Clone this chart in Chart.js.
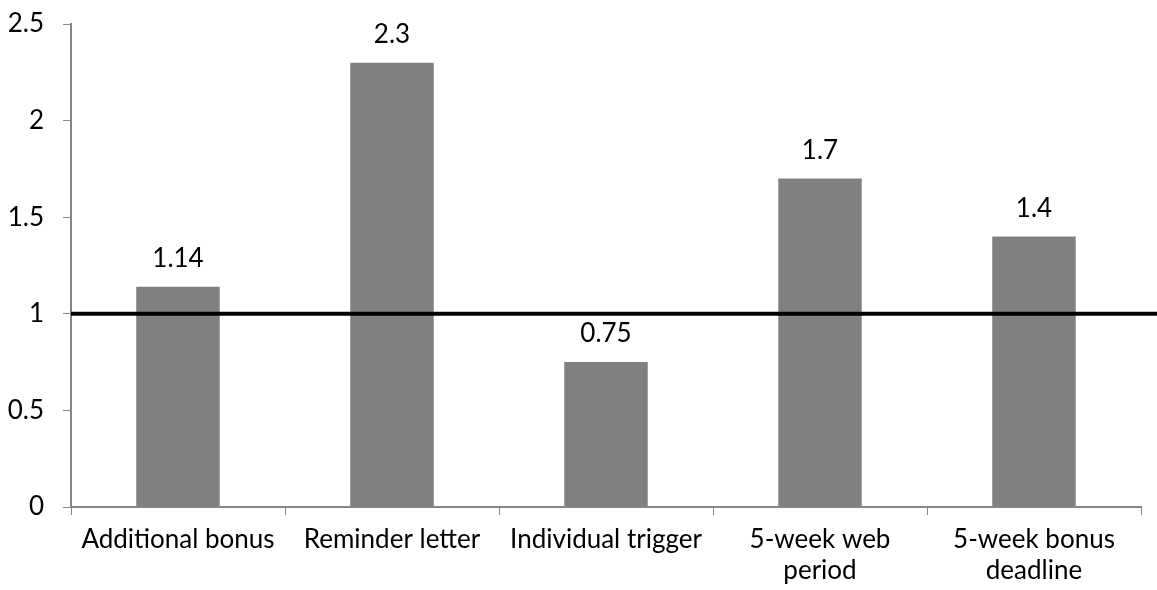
<!DOCTYPE html>
<html>
<head>
<meta charset="utf-8">
<script src="https://cdn.jsdelivr.net/npm/chart.js@4"></script>
<style>
  html, body { margin: 0; padding: 0; background: #fff; }
  #wrap { width: 1157px; height: 590px; }
</style>
</head>
<body>
<div id="wrap"><canvas id="chart"></canvas></div>
<script>
const categories = [
  'Additional bonus',
  'Reminder letter',
  'Individual trigger',
  ['5-week web', 'period'],
  ['5-week bonus', 'deadline']
];
const values = [1.14, 2.3, 0.75, 1.7, 1.4];
const valueLabels = ['1.14', '2.3', '0.75', '1.7', '1.4'];
const yTicks = [0, 0.5, 1, 1.5, 2, 2.5];
const referenceValue = 1;

const FONT = "Lato, 'Open Sans', sans-serif";
const FONT_SIZE = 26;
const axisColor = '#868686';

// etiquetas de valor encima de cada barra
const valueLabelPlugin = {
  id: 'valueLabels',
  afterDatasetsDraw: ( chart ) => {
    const ctx = chart.ctx;
    const meta = chart.getDatasetMeta(0);
    ctx.save();
    ctx.font = FONT_SIZE + 'px ' + FONT;
    ctx.fillStyle = '#000';
    ctx.textAlign = 'center';
    ctx.textBaseline = 'alphabetic';
    meta.data.forEach(( bar, i ) => {
      ctx.fillText( valueLabels[i], bar.x, bar.y - 20 );
    });
    ctx.restore();
  }
};

// linea de referencia en y = 1, llega hasta el borde derecho
const referenceLinePlugin = {
  id: 'referenceLine',
  afterDatasetsDraw: ( chart ) => {
    const ctx = chart.ctx;
    const y = chart.scales.y.getPixelForValue( referenceValue );
    ctx.save();
    ctx.strokeStyle = '#000';
    ctx.lineWidth = 4;
    ctx.beginPath();
    ctx.moveTo( chart.chartArea.left, y );
    ctx.lineTo( chart.width, y );
    ctx.stroke();
    ctx.restore();
  }
};

new Chart( document.getElementById('chart'), {
  type: 'bar',
  data: {
    labels: categories,
    datasets: [{
      data: values,
      backgroundColor: '#808080',
      borderWidth: 0,
      categoryPercentage: 1,
      barPercentage: 0.39
    }]
  },
  options: {
    responsive: true,
    maintainAspectRatio: false,
    animation: false,
    layout: { padding: { top: 24, right: 16, left: 0, bottom: 0 } },
    plugins: {
      legend: { display: false },
      tooltip: { enabled: false }
    },
    scales: {
      x: {
        grid: {
          display: true,
          drawOnChartArea: false,
          drawTicks: true,
          tickLength: 8,
          color: axisColor,
          offset: true
        },
        border: { display: true, color: axisColor, width: 2 },
        ticks: {
          color: '#000',
          font: { family: FONT, size: FONT_SIZE, lineHeight: 1.2 },
          maxRotation: 0,
          autoSkip: false,
          padding: 9
        },
        afterFit: ( scale ) => {
          scale.height = 83;
          scale.paddingLeft = 0;
          scale.paddingRight = 0;
        }
      },
      y: {
        min: 0,
        max: 2.5,
        afterBuildTicks: ( scale ) => {
          scale.ticks = yTicks.map(( v ) => ({ value: v }));
        },
        grid: {
          display: true,
          drawOnChartArea: false,
          drawTicks: true,
          tickLength: 8,
          color: axisColor
        },
        border: { display: true, color: axisColor, width: 2 },
        ticks: {
          color: '#000',
          font: { family: FONT, size: FONT_SIZE },
          padding: 19,
          callback: ( v ) => String( v )
        },
        afterFit: ( scale ) => {
          scale.width = 71;
          scale.paddingTop = 0;
          scale.paddingBottom = 0;
        }
      }
    }
  },
  plugins: [ valueLabelPlugin, referenceLinePlugin ]
});
</script>
</body>
</html>
